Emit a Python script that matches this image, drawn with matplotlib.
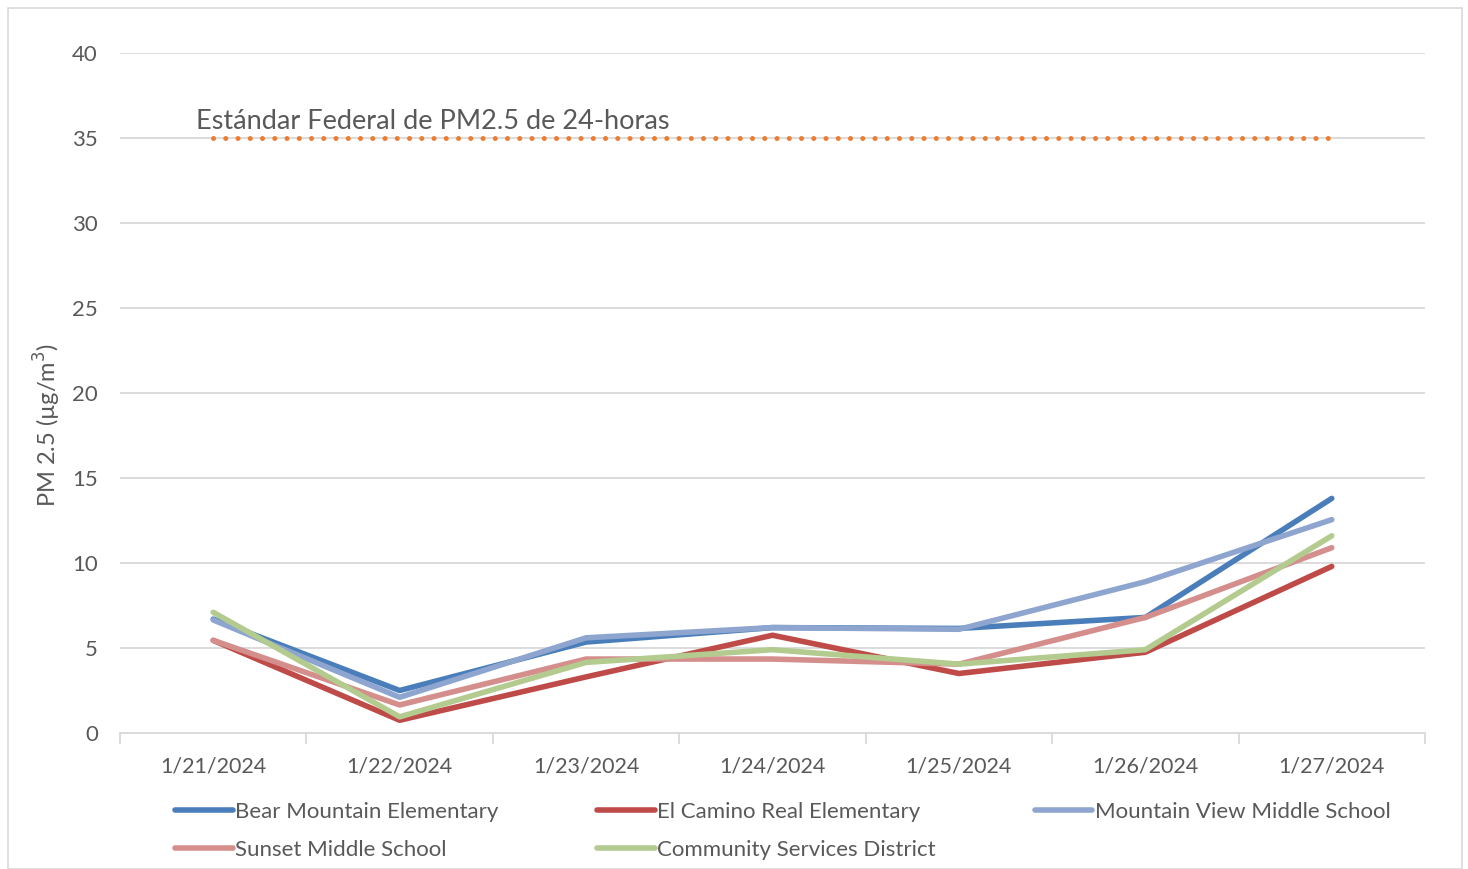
import matplotlib
matplotlib.use("Agg")
import matplotlib.pyplot as plt
from matplotlib.patches import Rectangle

dates = ["1/21/2024", "1/22/2024", "1/23/2024", "1/24/2024", "1/25/2024", "1/26/2024", "1/27/2024"]
bear_mountain = [6.7, 2.5, 5.35, 6.2, 6.15, 6.8, 13.8]
el_camino = [5.45, 0.75, 3.3, 5.75, 3.5, 4.75, 9.8]
mountain_view = [6.65, 2.1, 5.6, 6.2, 6.1, 8.9, 12.55]
sunset = [5.45, 1.65, 4.35, 4.35, 4.05, 6.8, 10.9]
community = [7.1, 0.95, 4.15, 4.9, 4.05, 4.9, 11.6]
federal_standard = 35
standard_label = "Estándar Federal de PM2.5 de 24-horas"

series = [
    ("Bear Mountain Elementary", bear_mountain, "#4a7ebb"),
    ("El Camino Real Elementary", el_camino, "#be4b48"),
    ("Mountain View Middle School", mountain_view, "#8ea6cf"),
    ("Sunset Middle School", sunset, "#d48e8c"),
    ("Community Services District", community, "#b3cb8e"),
]

plt.rcParams['font.family'] = ['Lato', 'DejaVu Sans']
txt = "#595959"

W, H = 1468, 869
fig = plt.figure(figsize=(W / 100, H / 100), dpi=100)
fig.patches.append(Rectangle((8 / W, 0), (1454) / W, (861) / H, transform=fig.transFigure,
                             fill=False, edgecolor="#d9d9d9", linewidth=1.2))
ax = fig.add_axes([120 / W, (H - 733) / H, (1425 - 120) / W, (733 - 53) / H])

x = list(range(len(dates)))
handles = {}
for name, vals, col in series:
    h, = ax.plot(x, vals, color=col, linewidth=4.0, solid_capstyle="round", solid_joinstyle="round", label=name)
    handles[name] = h

ax.plot([x[0], x[-1]], [federal_standard] * 2, color="#ed7d31", linestyle=(0, (0.01, 2.44)),
        linewidth=3.6, dash_capstyle="round")
ax.text(-0.09, federal_standard + 0.53, standard_label, fontsize=19.5, color=txt, ha="left", va="baseline")

ax.set_xlim(-0.5, len(dates) - 0.5)
ax.set_ylim(0, 40)
ax.set_yticks(range(0, 41, 5))
ax.set_xticks(x)
ax.set_xticklabels(dates)
ax.set_xticks([i - 0.5 for i in range(len(dates) + 1)], minor=True)
ax.grid(axis="y", color="#d9d9d9", linewidth=1.3)
ax.set_axisbelow(True)
for s in ["top", "right", "left"]:
    ax.spines[s].set_visible(False)
ax.spines["bottom"].set_color("#d9d9d9")
ax.spines["bottom"].set_linewidth(1.3)
ax.tick_params(axis="y", length=0, labelsize=16, labelcolor=txt, pad=16)
ax.tick_params(axis="x", which="major", length=0, labelsize=15.5, labelcolor=txt, pad=17)
ax.tick_params(axis="x", which="minor", length=8, color="#d9d9d9", width=1.3)
ax.set_ylabel("PM 2.5 (µg/m$^3$)", fontsize=17, color=txt)
ax.yaxis.set_label_coords((47 - 120) / 1305, (733 - 425) / 680)
ax.yaxis.label.set_va("center")

order = ["Bear Mountain Elementary", "Sunset Middle School", "El Camino Real Elementary",
         "Community Services District", "Mountain View Middle School"]
leg = fig.legend([handles[n] for n in order], order, loc="upper left",
                 bbox_to_anchor=(166 / W, 1 - 793 / H), ncol=3, frameon=False, fontsize=16,
                 handlelength=2.6, handletextpad=0.1, columnspacing=4.45, labelspacing=0.8,
                 borderaxespad=0)
for t in leg.get_texts():
    t.set_color(txt)

fig.savefig("out.png", dpi=100)
